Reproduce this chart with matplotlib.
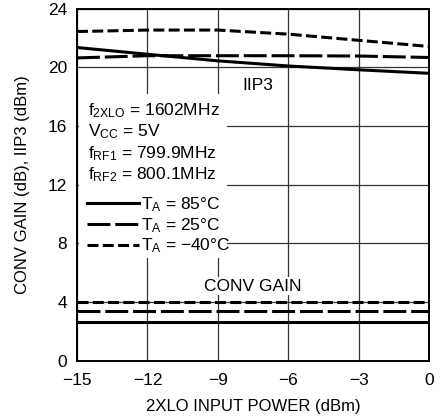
import matplotlib
matplotlib.use("Agg")
import matplotlib.pyplot as plt
from matplotlib.patches import Rectangle

plt.rcParams['font.family'] = ['Liberation Sans Narrow', 'Liberation Sans', 'DejaVu Sans']
plt.rcParams['mathtext.fontset'] = 'custom'
plt.rcParams['mathtext.rm'] = 'Liberation Sans'
plt.rcParams['mathtext.it'] = 'Liberation Sans'
plt.rcParams['font.size'] = 12

# -----------------------------------------------------------
# data
# -----------------------------------------------------------
lo_power = [-15, -12, -9, -6, -3, 0]

iip3_85 = [21.36, 20.9, 20.45, 20.1, 19.84, 19.6]
iip3_25 = [20.65, 20.8, 20.8, 20.8, 20.78, 20.68]
iip3_m40 = [22.45, 22.55, 22.55, 22.27, 21.85, 21.43]

gain_85 = [2.66, 2.66, 2.66, 2.66, 2.66, 2.66]
gain_25 = [3.36, 3.36, 3.36, 3.36, 3.36, 3.36]
gain_m40 = [4.0, 4.0, 4.0, 4.0, 4.0, 4.0]

x_ticks = [-15, -12, -9, -6, -3, 0]
y_ticks = [0, 4, 8, 12, 16, 20, 24]

conditions = [r'$\mathregular{f_{2XLO}}$ = 1602MHz',
              r'$\mathregular{V_{CC}}$ = 5V',
              r'$\mathregular{f_{RF1}}$ = 799.9MHz',
              r'$\mathregular{f_{RF2}}$ = 800.1MHz']
temp_labels = [r'$\mathregular{T_A}$ = 85°C',
               r'$\mathregular{T_A}$ = 25°C',
               r'$\mathregular{T_A}$ = ' + '\u221240°C']

# -----------------------------------------------------------
# figure
# -----------------------------------------------------------
fig = plt.figure(figsize=(4.46, 4.19), dpi=100)
ax = fig.add_axes([0.1726, 0.139, 0.79, 0.84])

lw = 2.2
solid = dict(color='black', lw=lw, linestyle='-')
long_dash = dict(color='black', lw=lw, linestyle=(0, (7.5, 1.6)))
short_dash = dict(color='black', lw=lw, linestyle=(0, (3.6, 1.4)))

h85, = ax.plot(lo_power, iip3_85, **solid, zorder=3)
h25, = ax.plot(lo_power, iip3_25, **long_dash, zorder=3)
hm40, = ax.plot(lo_power, iip3_m40, **short_dash, zorder=3)
ax.plot(lo_power, gain_85, **solid, zorder=3)
ax.plot(lo_power, gain_25, **long_dash, zorder=3)
ax.plot(lo_power, gain_m40, **short_dash, zorder=3)

ax.set_xlim(-15, 0)
ax.set_ylim(0, 24)
ax.set_xticks(x_ticks)
ax.set_yticks(y_ticks)
ax.tick_params(length=0, labelsize=12.5)
ax.tick_params(axis='x', pad=9)
ax.tick_params(axis='y', pad=7)
ax.set_axisbelow(True)
ax.grid(True, color='#333333', lw=0.9)
for s in ax.spines.values():
    s.set_linewidth(1.4)

ax.set_xlabel('2XLO INPUT POWER (dBm)', fontsize=12, labelpad=8)
ax.set_ylabel('CONV GAIN (dB), IIP3 (dBm)', fontsize=12, labelpad=13)

# white box behind the conditions / legend block
ax.add_patch(Rectangle((0.006, 0.292), 0.42, 0.466, transform=ax.transAxes,
                       facecolor='white', edgecolor='none', zorder=1))

def ay(px):
    return (360.7 - px) / 352.0

for i, txt in enumerate(conditions):
    ax.text((88 - 77) / 352.3, ay([115, 136, 158, 179][i]), txt,
            transform=ax.transAxes, va='baseline', ha='left', fontsize=12.5, zorder=4)

leg = ax.legend([h85, h25, hm40], temp_labels, loc='upper left',
                bbox_to_anchor=(0.008, ay(188)), frameon=False, fontsize=12.5,
                handlelength=3.0, handletextpad=0.1, labelspacing=0.12,
                borderpad=0.2, borderaxespad=0.2)
leg.set_zorder(4)

ax.text(-7.31, 18.47, 'IIP3', ha='center', va='baseline', fontsize=12.5,
        bbox=dict(facecolor='white', edgecolor='none', pad=1), zorder=4)
ax.text(-7.5, 4.77, 'CONV GAIN', ha='center', va='baseline', fontsize=12.5,
        bbox=dict(facecolor='white', edgecolor='none', pad=1), zorder=4)

fig.savefig('out.png', dpi=100)
